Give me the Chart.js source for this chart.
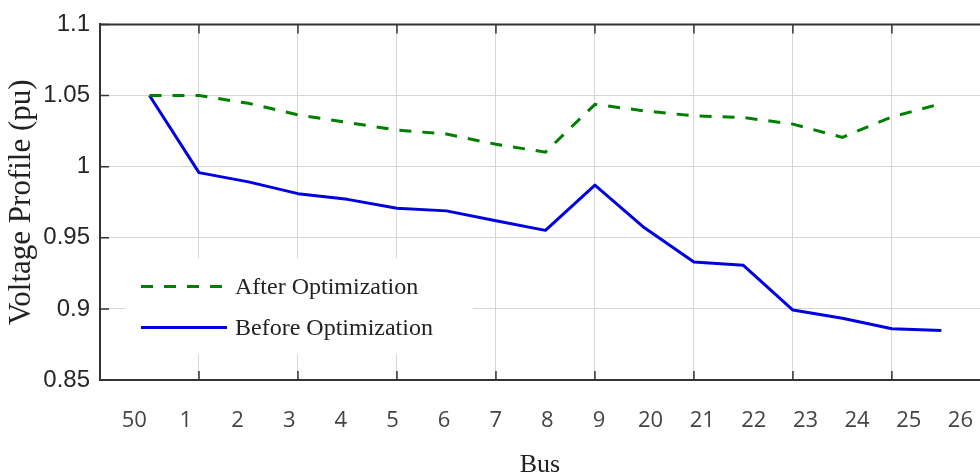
<!DOCTYPE html>
<html>
<head>
<meta charset="utf-8">
<script src="https://cdn.jsdelivr.net/npm/chart.js@4"></script>
<style>
  html, body { margin: 0; padding: 0; background: #fff; overflow: hidden; }
</style>
</head>
<body>
<canvas id="lineChart" width="980" height="476"></canvas>
<script>
// bus numbers along the x axis
const busLabels = ['50', '1', '2', '3', '4', '5', '6', '7', '8', '9', '20', '21', '22', '23', '24', '25', '26'];
// voltage (pu) at each bus
const afterOpt = [1.05, 1.05, 1.0445, 1.0364, 1.031, 1.0257, 1.0229, 1.0157, 1.0102, 1.0438, 1.0392, 1.0357, 1.0345, 1.0299, 1.0206, 1.035, 1.0443];
const beforeOpt = [1.05, 0.9958, 0.9893, 0.981, 0.977, 0.9707, 0.9689, 0.9619, 0.9552, 0.987, 0.957, 0.9329, 0.9306, 0.8992, 0.8934, 0.886, 0.8848];
const yTicks = [0.85, 0.9, 0.95, 1, 1.05, 1.1];
// vertical grid lines sit on every second bus
const gridAt = [1, 3, 5, 7, 9, 11, 13, 15];

// white legend box inside the plot, lower left
const insideLegend = {
    id: 'insideLegend',
    afterDraw(chart) {
        const { ctx, chartArea } = chart;
        const x0 = chartArea.left + 25;
        const y0 = chartArea.top + 234;
        ctx.save();
        ctx.fillStyle = '#fff';
        ctx.fillRect(x0, y0, 348, 96);
        chart.data.datasets.forEach((ds, i) => {
            const y = y0 + 28 + i * 41;
            ctx.strokeStyle = ds.borderColor;
            ctx.lineWidth = ds.borderWidth;
            ctx.setLineDash(ds.borderDash || []);
            ctx.beginPath();
            ctx.moveTo(x0 + 16, y);
            ctx.lineTo(x0 + 102, y);
            ctx.stroke();
            ctx.setLineDash([]);
            ctx.fillStyle = '#222';
            ctx.font = '24px "Liberation Serif"';
            ctx.textBaseline = 'middle';
            ctx.fillText(ds.label, x0 + 110, y + 1);
        });
        ctx.restore();
    }
};

// top border and inward tick marks (MATLAB style box)
const frameTicks = {
    id: 'frameTicks',
    afterDraw(chart) {
        const { ctx, chartArea, scales } = chart;
        ctx.save();
        ctx.strokeStyle = '#333';
        ctx.lineWidth = 2;
        ctx.beginPath();
        ctx.moveTo(chartArea.left - 1, chartArea.top);
        ctx.lineTo(chartArea.right, chartArea.top);
        ctx.stroke();
        ctx.lineWidth = 1.5;
        ctx.beginPath();
        scales.x.ticks.forEach(t => {
            const px = scales.x.getPixelForValue(t.value);
            ctx.moveTo(px, chartArea.bottom);
            ctx.lineTo(px, chartArea.bottom - 9);
            ctx.moveTo(px, chartArea.top);
            ctx.lineTo(px, chartArea.top + 9);
        });
        scales.y.ticks.forEach(t => {
            const py = scales.y.getPixelForValue(t.value);
            ctx.moveTo(chartArea.left, py);
            ctx.lineTo(chartArea.left + 9, py);
        });
        ctx.stroke();
        ctx.restore();
    }
};

const canvas = document.getElementById('lineChart');
new Chart(canvas, {
    type: 'line',
    data: {
        datasets: [{
            label: 'After Optimization',
            data: afterOpt.map((v, i) => ({ x: i, y: v })),
            borderColor: '#007f00',
            borderWidth: 3,
            borderDash: [12, 11],
            pointRadius: 0,
            tension: 0,
            xAxisID: 'x',
            yAxisID: 'y'
        }, {
            label: 'Before Optimization',
            data: beforeOpt.map((v, i) => ({ x: i, y: v })),
            borderColor: '#0000e0',
            borderWidth: 3,
            borderJoinStyle: 'round',
            pointRadius: 0,
            tension: 0,
            xAxisID: 'x',
            yAxisID: 'y'
        }]
    },
    options: {
        responsive: false,
        animation: false,
        layout: { padding: { top: 22, right: 0, bottom: 0, left: 0 } },
        plugins: {
            legend: { display: false },
            tooltip: { enabled: false }
        },
        scales: {
            x: {
                type: 'linear',
                min: -1,
                max: 16.78,
                weight: 0,
                afterBuildTicks: axis => { axis.ticks = gridAt.map(v => ({ value: v })); },
                afterFit: axis => { axis.height = 0; axis.paddingLeft = 0; axis.paddingRight = 0; },
                grid: { color: '#d6d6d6', lineWidth: 1, drawTicks: false },
                border: { display: true, color: '#333', width: 2 },
                ticks: { display: false }
            },
            xBus: {
                type: 'linear',
                position: 'bottom',
                min: -0.664,
                max: 16.38,
                weight: 1,
                afterBuildTicks: axis => { axis.ticks = busLabels.map((_, i) => ({ value: i })); },
                afterFit: axis => { axis.height = 96; axis.paddingLeft = 0; axis.paddingRight = 0; },
                grid: { display: false, drawTicks: false },
                border: { display: false },
                ticks: {
                    padding: 28,
                    autoSkip: false,
                    maxRotation: 0,
                    color: '#444',
                    font: { family: 'Open Sans', size: 22 },
                    callback: v => busLabels[v]
                },
                title: {
                    display: true,
                    text: 'Bus',
                    color: '#222',
                    font: { family: 'Liberation Serif', size: 26, lineHeight: 0.8 },
                    padding: 0
                }
            },
            y: {
                type: 'linear',
                min: 0.85,
                max: 1.1,
                afterBuildTicks: axis => { axis.ticks = yTicks.map(v => ({ value: v })); },
                afterFit: axis => { axis.width = 100; },
                grid: { color: '#d6d6d6', lineWidth: 1, drawTicks: false },
                border: { display: true, color: '#333', width: 2 },
                ticks: {
                    padding: 10,
                    color: '#262626',
                    font: { family: 'Liberation Sans', size: 24 },
                    callback: v => String(v)
                },
                title: {
                    display: true,
                    text: 'Voltage Profile (pu)',
                    color: '#222',
                    font: { family: 'Liberation Serif', size: 31 },
                    padding: { top: 3, bottom: 0 }
                }
            }
        }
    },
    plugins: [insideLegend, frameTicks]
});
</script>
</body>
</html>
